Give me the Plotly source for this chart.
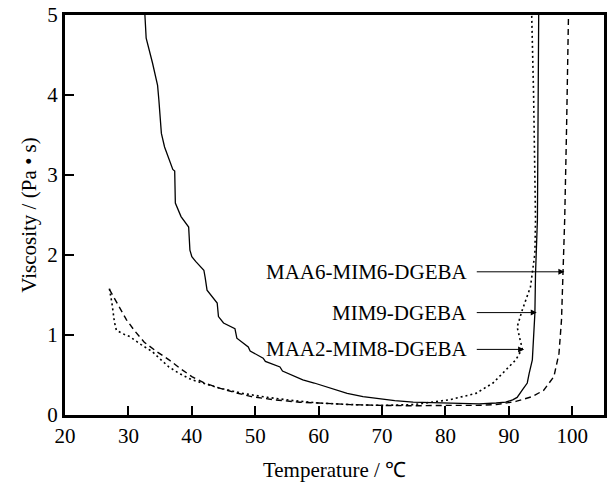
import plotly.graph_objects as go

# MIM9-DGEBA (solid)
t_mim9 = [32.6, 32.8, 33.8, 34.6, 34.8, 35.2, 35.7, 37.0, 37.3, 37.4, 38.3, 39.5, 39.7, 40.0, 40.6, 41.9, 42.1, 42.4,
          44.0, 44.2, 45.0, 46.8, 47.1, 48.9, 49.2, 51.25, 51.6, 53.9, 54.3, 56.0, 57.5, 59.3, 62.0, 64.5, 67.0, 69.7,
          72.0, 74.9, 77.5, 80.2, 85.3, 88.0, 89.5, 90.6, 91.3, 92.1, 92.9, 93.2, 93.7, 94.1, 94.2, 94.5, 94.6, 94.7]
v_mim9 = [5.0, 4.71, 4.40, 4.12, 3.94, 3.52, 3.35, 3.07, 3.05, 2.65, 2.48, 2.35, 2.06, 1.98, 1.92, 1.81, 1.72, 1.56,
          1.40, 1.23, 1.15, 1.08, 0.96, 0.85, 0.80, 0.71, 0.67, 0.60, 0.55, 0.49, 0.44, 0.40, 0.33, 0.27, 0.23, 0.20,
          0.18, 0.16, 0.155, 0.15, 0.14, 0.15, 0.16, 0.19, 0.22, 0.31, 0.40, 0.52, 0.69, 1.27, 1.77, 2.44, 3.5, 5.0]

# MAA6-MIM6-DGEBA (dashed)
t_maa6 = [27.0, 28.2, 29.7, 31.0, 32.5, 34.5, 36.4, 38.2, 40.0, 42.0, 44.2, 46.8, 49.4, 53.0, 57.0, 60.0, 65.0,
          70.0, 75.0, 80.0, 85.0, 88.0, 91.1, 93.7, 95.5, 97.1, 97.9, 98.3, 98.6, 98.8, 99.1, 99.4]
v_maa6 = [1.57, 1.40, 1.19, 1.05, 0.91, 0.79, 0.69, 0.58, 0.48, 0.40, 0.34, 0.28, 0.23, 0.19, 0.16, 0.15, 0.13,
          0.12, 0.115, 0.12, 0.12, 0.13, 0.17, 0.23, 0.31, 0.48, 0.77, 1.19, 1.81, 2.44, 3.6, 5.0]

# MAA2-MIM8-DGEBA (dotted)
t_maa2 = [27.0, 27.4, 27.8, 28.1, 29.0, 30.2, 32.0, 33.8, 35.0, 36.4, 38.0, 40.0, 44.2, 48.0, 52.0, 56.0, 60.0,
          65.0, 70.0, 75.0, 80.6, 84.8, 87.5, 89.5, 91.1, 92.1, 91.3, 92.1, 93.4, 94.1, 94.2, 93.9, 93.6]
v_maa2 = [1.58, 1.40, 1.16, 1.06, 1.02, 0.98, 0.88, 0.79, 0.70, 0.60, 0.52, 0.44, 0.34, 0.27, 0.22, 0.18, 0.15,
          0.13, 0.12, 0.13, 0.19, 0.27, 0.40, 0.56, 0.69, 0.83, 1.10, 1.31, 1.60, 2.02, 2.44, 4.0, 5.0]

labels = ["MAA6-MIM6-DGEBA", "MIM9-DGEBA", "MAA2-MIM8-DGEBA"]
label_y = [1.79, 1.28, 0.82]
arrow_x = [98.75, 94.4, 92.4]

FONT = "Liberation Serif, Times New Roman, serif"
FS = 21

fig = go.Figure()
fig.add_trace(go.Scatter(x=t_mim9, y=v_mim9, mode="lines", line=dict(color="black", width=1.3, dash="solid")))
fig.add_trace(go.Scatter(x=t_maa6, y=v_maa6, mode="lines", line=dict(color="black", width=1.4, dash="6px,4px")))
fig.add_trace(go.Scatter(x=t_maa2, y=v_maa2, mode="lines", line=dict(color="black", width=1.6, dash="2px,3px")))

for lab, ly, axx in zip(labels, label_y, arrow_x):
    fig.add_annotation(x=83.75, y=ly, text=lab, showarrow=False, xanchor="right", yanchor="middle",
                       font=dict(family=FONT, size=FS, color="black"))
    fig.add_annotation(x=axx, y=ly, ax=84.7, ay=ly, axref="x", ayref="y", text="", showarrow=True,
                       arrowhead=2, arrowsize=1.2, arrowwidth=1, arrowcolor="black")

fig.update_layout(
    width=608, height=482,
    margin=dict(l=65, r=1, t=15, b=67),
    paper_bgcolor="white", plot_bgcolor="white",
    showlegend=False,
    font=dict(family=FONT, size=FS, color="black"),
)
fig.update_xaxes(range=[20, 105], tickvals=[20, 30, 40, 50, 60, 70, 80, 90, 100],
                 ticks="inside", ticklen=9, tickwidth=2, tickcolor="black",
                 showline=True, linewidth=3, linecolor="black", mirror=True,
                 showgrid=False, zeroline=False,
                 title=dict(text="Temperature / ℃", font=dict(family=FONT, size=FS), standoff=16))
fig.update_yaxes(range=[0, 5], tickvals=[0, 1, 2, 3, 4, 5],
                 ticks="inside", ticklen=9, tickwidth=2, tickcolor="black",
                 showline=True, linewidth=3, linecolor="black", mirror=True,
                 showgrid=False, zeroline=False,
                 title=dict(text="Viscosity / (Pa • s)", font=dict(family=FONT, size=FS), standoff=5))

fig.write_html("out.html")
